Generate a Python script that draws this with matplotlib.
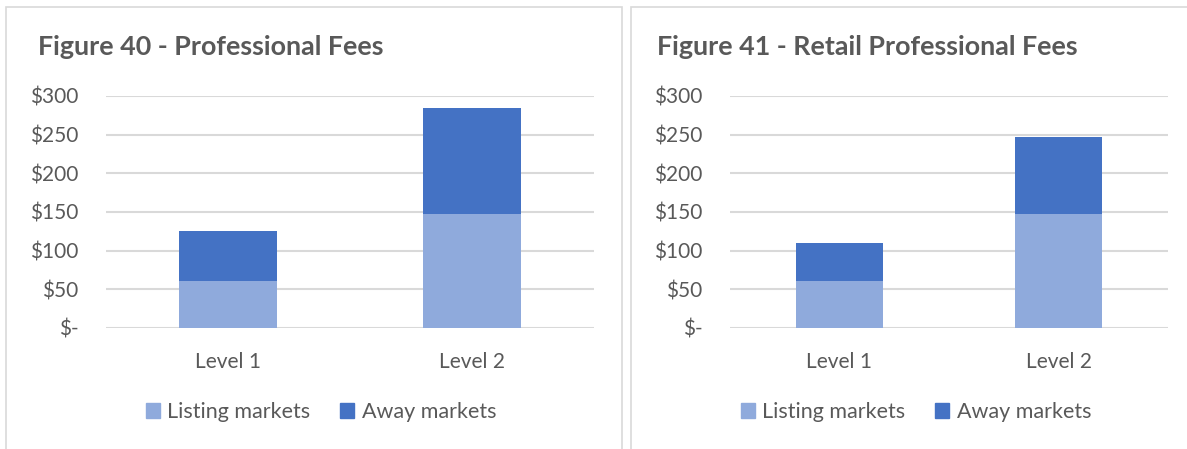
import matplotlib.pyplot as plt
from matplotlib.patches import Rectangle
from matplotlib.patches import Patch

plt.rcParams['font.family'] = ['Lato', 'DejaVu Sans']

levels = ['Level 1', 'Level 2']
titles = ['Figure 40 - Professional Fees', 'Figure 41 - Retail Professional Fees']
listing = [[61, 147], [61, 147]]
away = [[64, 138], [49, 100]]
yticks = [0, 50, 100, 150, 200, 250, 300]
ylabels = ['$-', '$50', '$100', '$150', '$200', '$250', '$300']

light = '#8faadc'
dark = '#4472c4'
grid = '#d9d9d9'
text = '#595959'

W, H = 1187, 449
fig = plt.figure(figsize=(W / 100, H / 100), dpi=100)

# panel frames (pixels: left, right)
panels = [(6, 622), (631, 1190)]
axes_px = [(106, 594), (730, 1168)]
title_x = [38, 657]

for i in range(2):
    x0, x1 = panels[i]
    fig.patches.append(Rectangle((x0 / W, -0.05), (x1 - x0) / W, 1.05 - 7 / H,
                                 transform=fig.transFigure, fill=False,
                                 edgecolor=grid, linewidth=1.2))
    a0, a1 = axes_px[i]
    ax = fig.add_axes([a0 / W, 1 - 328 / H, (a1 - a0) / W, (328 - 96) / H])
    ax.bar(levels, listing[i], width=0.4, color=light, label='Listing markets')
    ax.bar(levels, away[i], width=0.4, bottom=listing[i], color=dark, label='Away markets')
    ax.set_ylim(0, 300)
    ax.set_xlim(-0.5, 1.5)
    ax.set_yticks(yticks)
    ax.set_yticklabels(ylabels)
    ax.yaxis.grid(True, color=grid, linewidth=1.5)
    ax.set_axisbelow(True)
    for s in ['top', 'right', 'left', 'bottom']:
        ax.spines[s].set_visible(False)
    ax.tick_params(axis='both', length=0, labelcolor=text, labelsize=15)
    ax.tick_params(axis='y', pad=20)
    ax.tick_params(axis='x', pad=17)
    fig.text(title_x[i] / W, 1 - 47 / H, titles[i], fontsize=19.4, fontweight='bold',
             color=text, va='center', ha='left')
    cx = (x0 + min(x1, W)) / 2 + 7
    handles = [Patch(color=light, label='Listing markets'), Patch(color=dark, label='Away markets')]
    fig.legend(handles=handles, loc='center', bbox_to_anchor=(cx / W, 1 - 412 / H),
               ncol=2, frameon=False, fontsize=15.5, labelcolor=text,
               handlelength=0.65, handleheight=0.65, handletextpad=0.35, columnspacing=1.4)

fig.savefig('out.png', dpi=100, facecolor='white')
